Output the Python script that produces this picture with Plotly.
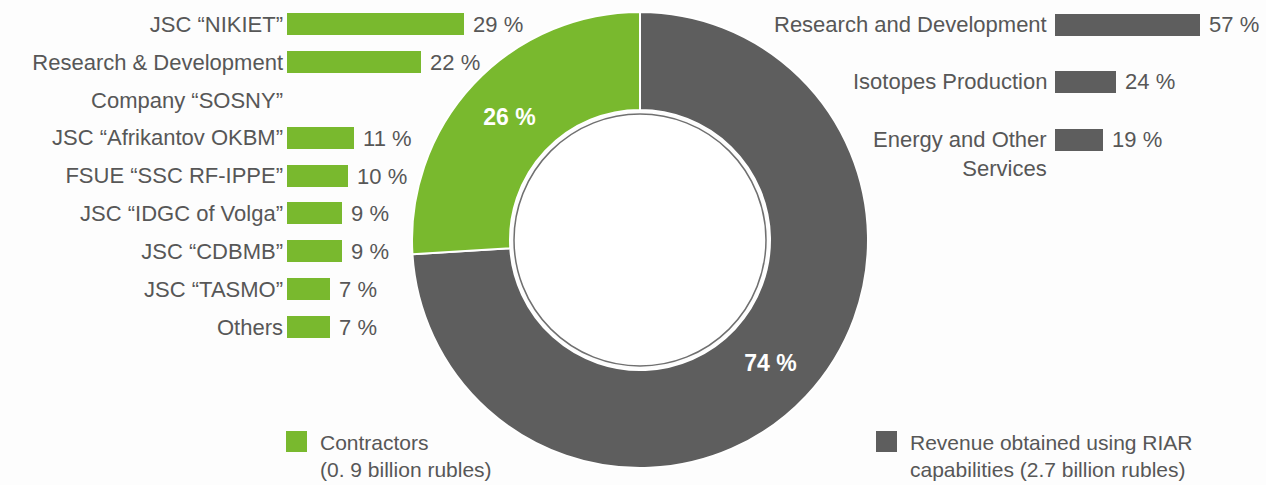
import plotly.graph_objects as go

# ---------------- data ----------------
contractor_labels = [
    "JSC “NIKIET”",
    "Research & Development<br>Company “SOSNY”",
    "JSC “Afrikantov OKBM”",
    "FSUE “SSC RF-IPPE”",
    "JSC “IDGC of Volga”",
    "JSC “CDBMB”",
    "JSC “TASMO”",
    "Others",
]
contractor_values = [29, 22, 11, 10, 9, 9, 7, 7]

revenue_labels = [
    "Research and Development",
    "Isotopes Production",
    "Energy and Other<br>Services",
]
revenue_values = [57, 24, 19]

donut_labels = ["Revenue obtained using RIAR<br>capabilities (2.7 billion rubles)",
                "Contractors<br>(0. 9 billion rubles)"]
donut_values = [74, 26]

# ---------------- styles ----------------
GREEN = "#79b92e"
GRAY = "#5e5e5e"
TEXT = "#575757"
FONT = "Liberation Sans, Arial, sans-serif"
FS = 22
W, H = 1266, 485

fig = go.Figure()

# ---- left bars: each label line gets its own row slot ----
slot_pos, tick_vals, tick_text = [], [], []
slot = 0
for lab in contractor_labels:
    lines = lab.split("<br>")
    slot_pos.append(slot)
    for ln in lines:
        tick_vals.append(slot)
        tick_text.append(ln)
        slot += 1
n_slots = slot

fig.add_trace(go.Bar(
    x=contractor_values, y=slot_pos, orientation="h",
    marker=dict(color=GREEN, line=dict(width=0)),
    width=0.58,
    text=contractor_values, texttemplate="\u00a0%{x} %",
    textposition="outside", constraintext="none", cliponaxis=False,
    textfont=dict(family=FONT, size=FS, color=TEXT),
    xaxis="x", yaxis="y", showlegend=False, hoverinfo="skip",
))

# ---- right bars ----
rev_pos = list(range(len(revenue_labels)))
fig.add_trace(go.Bar(
    x=revenue_values, y=rev_pos, orientation="h",
    marker=dict(color=GRAY, line=dict(width=0)),
    width=0.38,
    text=revenue_values, texttemplate="\u00a0%{x} %",
    textposition="outside", constraintext="none", cliponaxis=False,
    textfont=dict(family=FONT, size=FS, color=TEXT),
    xaxis="x2", yaxis="y2", showlegend=False, hoverinfo="skip",
))

# ---- donut ----
cx, cy, R = 640, 240, 228
hole_r = 130
fig.add_trace(go.Pie(
    labels=donut_labels, values=donut_values,
    sort=False, direction="clockwise", rotation=0,
    hole=hole_r / R,
    marker=dict(colors=[GRAY, GREEN], line=dict(color="white", width=2)),
    texttemplate="%{value} %", textposition="inside",
    insidetextorientation="horizontal",
    textfont=dict(family=FONT, size=23, color="white", weight="bold"),
    domain=dict(x=[(cx - R) / W, (cx + R) / W],
                y=[(H - cy - R) / H, (H - cy + R) / H]),
    showlegend=False, hoverinfo="skip",
))

# inner ring line of donut hole
ring_r = 126
fig.add_shape(type="circle", xref="paper", yref="paper",
              x0=(cx - ring_r) / W, x1=(cx + ring_r) / W,
              y0=(H - cy - ring_r) / H, y1=(H - cy + ring_r) / H,
              line=dict(color="#707070", width=1.5), fillcolor="white")

# ---- axes ----
left_px_per = 6.1
left_x0 = 287
left_dom_w = 0.2
left_top, left_row = 24, 37.9
fig.update_layout(
    xaxis=dict(domain=[left_x0 / W, left_x0 / W + left_dom_w],
               range=[0, left_dom_w * W / left_px_per],
               visible=False, fixedrange=True),
    yaxis=dict(domain=[(H - (left_top + (n_slots - 0.5) * left_row)) / H,
                       (H - (left_top - 0.5 * left_row)) / H],
               range=[n_slots - 0.5, -0.5],
               tickvals=tick_vals, ticktext=tick_text,
               showgrid=False, zeroline=False, showline=False, ticks="",
               ticklabelstandoff=3,
               tickfont=dict(family=FONT, size=FS, color=TEXT),
               anchor="x", fixedrange=True),
)

right_x0 = 1055
right_px_per = 2.55
right_top, right_row = 24.7, 57.4
fig.update_layout(
    xaxis2=dict(domain=[right_x0 / W, 1.0],
                range=[0, (W - right_x0) / right_px_per],
                visible=False, fixedrange=True, anchor="y2"),
    yaxis2=dict(domain=[(H - (right_top + 2.4 * right_row)) / H,
                        (H - (right_top - 0.4 * right_row)) / H],
                range=[2.4, -0.4], visible=False, anchor="x2", fixedrange=True),
)

for pos, lab in zip(rev_pos, revenue_labels):
    fig.add_annotation(text=lab, xref="x2 domain", x=0, xanchor="right", xshift=-6,
                       yref="y2", y=pos, yanchor="top", yshift=15,
                       align="right", showarrow=False,
                       font=dict(family=FONT, size=FS, color=TEXT))

# ---- legends (bottom) ----
legend_items = [(GREEN, donut_labels[1], 286), (GRAY, donut_labels[0], 876)]
for color, lab, lx in legend_items:
    fig.add_shape(type="rect", xref="paper", yref="paper",
                  x0=lx / W, x1=(lx + 21) / W, y0=(H - 452) / H, y1=(H - 431) / H,
                  line=dict(width=0), fillcolor=color)
    fig.add_annotation(text=lab, xref="paper", x=(lx + 32) / W, xanchor="left",
                       yref="paper", y=(H - 429) / H, yanchor="top",
                       align="left", showarrow=False,
                       font=dict(family=FONT, size=21, color=TEXT))

fig.update_layout(
    width=W, height=H, margin=dict(l=0, r=0, t=0, b=0),
    paper_bgcolor="#fdfdfd", plot_bgcolor="rgba(0,0,0,0)",
    bargap=0, showlegend=False,
)

fig.write_html("out.html", config={"displayModeBar": False},
               post_script="document.body.style.margin='0';")
